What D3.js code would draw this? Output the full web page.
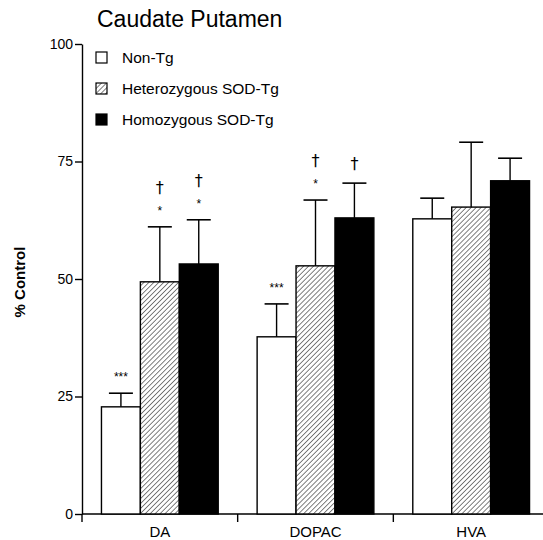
<!DOCTYPE html>
<html>
<head>
<meta charset="utf-8">
<script src="https://cdn.jsdelivr.net/npm/d3@7"></script>
<style>
  body { margin: 0; background: #fff; }
  svg { display: block; font-family: "Liberation Sans", Arial, Helvetica, sans-serif; }
  text { fill: #000; }
</style>
</head>
<body>
<div id="chart"></div>
<script>
// data (% of control, mean and error)
const categories = ["DA", "DOPAC", "HVA"];
const groups = ["Non-Tg", "Heterozygous SOD-Tg", "Homozygous SOD-Tg"];
const yTicks = [0, 25, 50, 75, 100];

const nonTgMean = [22.8, 37.7, 62.8];
const nonTgErr  = [2.9, 7.0, 4.4];
const hetMean   = [49.4, 52.8, 65.3];
const hetErr    = [11.7, 14.0, 13.8];
const homMean   = [53.2, 63.0, 70.9];
const homErr    = [9.4, 7.4, 4.8];

// significance marks above the error bars
const nonTgStars = ["***", "***", ""];
const hetStars   = ["*", "*", ""];
const homStars   = ["*", "", ""];
const nonTgDagger = ["", "", ""];
const hetDagger   = ["\u2020", "\u2020", ""];
const homDagger   = ["\u2020", "\u2020", ""];

const W = 543, H = 540;

var svg = d3.select("#chart").append("svg")
    .attr("width", W)
    .attr("height", H);

// hatch pattern for heterozygous
var defs = svg.append("defs");
var pat = defs.append("pattern")
    .attr("id", "hatch")
    .attr("patternUnits", "userSpaceOnUse")
    .attr("width", 3.5)
    .attr("height", 3.5)
    .attr("patternTransform", "rotate(45)");
pat.append("rect").attr("width", 3.5).attr("height", 3.5).attr("fill", "#fff");
pat.append("line")
    .attr("x1", 0).attr("y1", 0).attr("x2", 0).attr("y2", 3.5)
    .attr("stroke", "#000").attr("stroke-width", 1);

const fills = ["#fff", "url(#hatch)", "#000"];

var y = d3.scaleLinear().domain([0, 100]).range([514, 44]);
var x0 = d3.scaleBand().domain(categories).range([82, 549]);
var x1 = d3.scaleBand().domain(groups).range([0, x0.bandwidth()])
    .paddingInner(0).paddingOuter(0.5);

// build rows from arrays
var means = [nonTgMean, hetMean, homMean];
var errs = [nonTgErr, hetErr, homErr];
var stars = [nonTgStars, hetStars, homStars];
var daggers = [nonTgDagger, hetDagger, homDagger];
var rows = [];
categories.forEach(function (c, i) {
  groups.forEach(function (g, j) {
    rows.push({ cat: c, grp: g, gi: j, mean: means[j][i], err: errs[j][i],
                star: stars[j][i], dag: daggers[j][i] });
  });
});

// y axis
var yAxis = svg.append("g")
    .attr("transform", "translate(82,0)")
    .call(d3.axisLeft(y).tickValues(yTicks).tickSize(7).tickSizeOuter(0));
yAxis.select(".domain").attr("stroke", "#000").attr("stroke-width", 1.4);
yAxis.selectAll(".tick line").attr("stroke", "#000").attr("stroke-width", 1.4);
yAxis.selectAll(".tick text")
    .attr("font-size", 14).attr("fill", "#000")
    .attr("font-family", "Liberation Sans, Arial, sans-serif")
    .attr("x", -9);

// x axis: line plus boundary ticks
svg.append("line")
    .attr("x1", 82).attr("x2", 543)
    .attr("y1", y(0)).attr("y2", y(0))
    .attr("stroke", "#000").attr("stroke-width", 1.4);
svg.selectAll(".xtick")
  .data(categories)
  .enter().append("line")
    .attr("class", "xtick")
    .attr("x1", function (d) { return x0(d); })
    .attr("x2", function (d) { return x0(d); })
    .attr("y1", y(0))
    .attr("y2", y(0) + 8)
    .attr("stroke", "#000").attr("stroke-width", 1.4);
svg.selectAll(".xlab")
  .data(categories)
  .enter().append("text")
    .attr("class", "xlab")
    .attr("x", function (d) { return x0(d) + x0.bandwidth() / 2; })
    .attr("y", 537)
    .attr("text-anchor", "middle")
    .attr("font-size", 15)
    .text(function (d) { return d; });

// bars
var bar = svg.selectAll(".bar")
  .data(rows)
  .enter().append("g")
    .attr("class", "bar");

bar.append("rect")
    .attr("x", function (d) { return x0(d.cat) + x1(d.grp); })
    .attr("y", function (d) { return y(d.mean); })
    .attr("width", x1.bandwidth())
    .attr("height", function (d) { return y(0) - y(d.mean); })
    .attr("fill", function (d) { return fills[d.gi]; })
    .attr("stroke", "#000")
    .attr("stroke-width", 1.4);

function cx(d) { return x0(d.cat) + x1(d.grp) + x1.bandwidth() / 2; }

// error bars (upper only)
bar.append("line")
    .attr("x1", cx).attr("x2", cx)
    .attr("y1", function (d) { return y(d.mean); })
    .attr("y2", function (d) { return y(d.mean + d.err); })
    .attr("stroke", "#000").attr("stroke-width", 1.4);
bar.append("line")
    .attr("x1", function (d) { return cx(d) - 12; })
    .attr("x2", function (d) { return cx(d) + 12; })
    .attr("y1", function (d) { return y(d.mean + d.err); })
    .attr("y2", function (d) { return y(d.mean + d.err); })
    .attr("stroke", "#000").attr("stroke-width", 1.6);

bar.append("text")
    .attr("x", cx)
    .attr("y", function (d) { return y(d.mean + d.err) - 12; })
    .attr("text-anchor", "middle")
    .attr("font-size", 12)
    .attr("fill", "#000")
    .text(function (d) { return d.star; });

// daggers; opacity just under 1 keeps the glyph grey-scale antialiased
bar.append("text")
    .attr("x", cx)
    .attr("y", function (d) { return y(d.mean + d.err) - (d.star ? 34 : 14); })
    .attr("text-anchor", "middle")
    .attr("font-size", 16)
    .attr("font-family", "DejaVu Sans, Liberation Sans, sans-serif")
    .attr("fill", "#000")
    .attr("opacity", 0.999)
    .text(function (d) { return d.dag; });

// title
svg.append("text")
    .attr("x", 97)
    .attr("y", 27)
    .attr("font-size", 23)
    .text("Caudate Putamen");

// legend
var legend = svg.selectAll(".legend")
  .data(groups)
  .enter().append("g")
    .attr("class", "legend")
    .attr("transform", function (d, i) { return "translate(96," + (52 + i * 31) + ")"; });
legend.append("rect")
    .attr("width", 11).attr("height", 11)
    .attr("fill", function (d, i) { return fills[i]; })
    .attr("stroke", "#000").attr("stroke-width", 1.2);
legend.append("text")
    .attr("x", 26)
    .attr("y", 11)
    .attr("font-size", 15.5)
    .text(function (d) { return d; });

// y label
svg.append("text")
    .attr("transform", "translate(25,282) rotate(-90)")
    .attr("text-anchor", "middle")
    .attr("font-size", 15)
    .attr("font-weight", "bold")
    .text("% Control");
</script>
</body>
</html>
